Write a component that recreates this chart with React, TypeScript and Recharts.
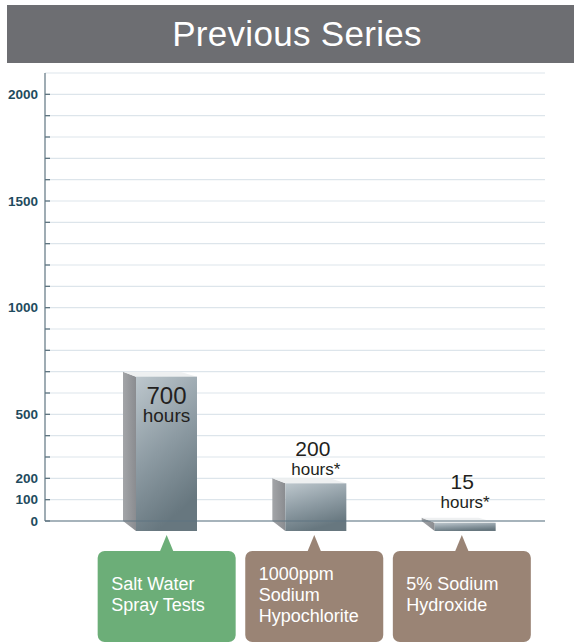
import React from "react";
import { BarChart, Bar, XAxis, YAxis, CartesianGrid } from "recharts";

const categories = ["Salt Water Spray Tests", "1000ppm Sodium Hypochlorite", "5% Sodium Hydroxide"];
const hours = [700, 200, 15];
const hourUnits = ["hours", "hours*", "hours*"];
const calloutLines = [
  ["Salt Water", "Spray Tests"],
  ["1000ppm", "Sodium", "Hypochlorite"],
  ["5% Sodium", "Hydroxide"],
];
const calloutColors = ["#6cae78", "#9a8475", "#9a8475"];
const yTicks = [0, 100, 200, 300, 400, 500, 600, 700, 800, 900, 1000, 1100, 1200, 1300, 1400, 1500, 1600, 1700, 1800, 1900, 2000];
const yLabels = [0, 100, 200, 500, 1000, 1500, 2000];
const title = "Previous Series";

const data = categories.map((c, i) => ({ name: c, hours: hours[i], unit: hourUnits[i] }));

const FONT = '"Liberation Sans", Arial, Helvetica, sans-serif';
const AXIS = "#5f7581";

function Bar3D(props: any) {
  const { x, y, width, height, payload } = props;
  const base = y + height;
  const dx = 13;
  const dyTop = 5;
  const dyBot = 10;
  const fx = x + dx;
  const fTop = y + dyTop;
  const fBot = base + dyBot;
  const inside = height > 60;
  const labelAnchor = fx + width / 2;
  const aboveRef = Math.min(fTop, 516);
  return (
    <g>
      <polygon
        points={`${x},${y} ${fx},${fTop} ${fx},${fBot} ${x},${base}`}
        fill="url(#sideGrad)"
      />
      <polygon
        points={`${x},${y} ${x + width - 4},${y} ${fx + width},${fTop} ${fx},${fTop}`}
        fill="#eef0f1"
      />
      <rect x={fx} y={fTop} width={width} height={fBot - fTop} fill="url(#frontGrad)" />
      {inside ? (
        <g fontFamily={FONT} fill="#231f20" textAnchor="middle">
          <text x={labelAnchor} y={fTop + 27} fontSize={24}>{payload.hours}</text>
          <text x={labelAnchor} y={fTop + 45} fontSize={19}>{payload.unit}</text>
        </g>
      ) : (
        <g fontFamily={FONT} fill="#231f20" textAnchor="middle">
          <text x={labelAnchor - 3} y={aboveRef - 27} fontSize={21}>{payload.hours}</text>
          <text x={labelAnchor} y={aboveRef - 8} fontSize={17}>{payload.unit}</text>
        </g>
      )}
    </g>
  );
}

function YTick(props: any) {
  const { x, y, payload } = props;
  const show = yLabels.includes(payload.value);
  return (
    <g>
      <line x1={x} x2={x + 5} y1={y} y2={y} stroke={AXIS} strokeWidth={1.3} />
      {show && (
        <text
          x={x - 7}
          y={y}
          dy={4.5}
          textAnchor="end"
          fontFamily={FONT}
          fontWeight="bold"
          fontSize={13.5}
          fill="#1f4b5e"
        >
          {payload.value}
        </text>
      )}
    </g>
  );
}

function Callout(props: any) {
  const { x, y, index } = props;
  const cx = x + 13 - index * 1.75;
  const w = 138;
  const left = cx - w / 2;
  const top = y + 30;
  const h = 91;
  const lines = calloutLines[index] || [];
  const color = calloutColors[index];
  const first = y + 79.5 - (lines.length - 1) * 10.5;
  return (
    <g>
      <polygon points={`${cx},${y + 14} ${cx - 7},${top + 1} ${cx + 7},${top + 1}`} fill={color} />
      <rect x={left} y={top} width={w} height={h} rx={7} ry={7} fill={color} />
      {lines.map((ln: string, i: number) => (
        <text
          key={i}
          x={left + 13.5}
          y={first + i * 21}
          fontFamily={FONT}
          fontSize={18}
          fill="#ffffff"
        >
          {ln}
        </text>
      ))}
    </g>
  );
}

export default function App() {
  return (
    <div style={{ position: "relative", width: 574, height: 643, overflow: "hidden", background: "#fff" }}>
      <style>{"body{margin:0}"}</style>
      <div style={{ position: "absolute", left: 0, top: 0 }}>
        <BarChart
          width={574}
          height={643}
          data={data}
          margin={{ top: 73, right: 29, bottom: 2, left: 0 }}
        >
          <defs>
            <linearGradient id="frontGrad" x1="0" y1="0" x2="0.35" y2="1">
              <stop offset="0%" stopColor="#bdc7cd" />
              <stop offset="55%" stopColor="#8c9aa2" />
              <stop offset="100%" stopColor="#67777f" />
            </linearGradient>
            <linearGradient id="sideGrad" x1="0" y1="0" x2="1" y2="0">
              <stop offset="0%" stopColor="#a3a5a8" />
              <stop offset="100%" stopColor="#8a8c90" />
            </linearGradient>
          </defs>
          <CartesianGrid vertical={false} stroke="#dde5eb" strokeWidth={1.2} />
          <XAxis
            dataKey="name"
            height={120}
            tickSize={0}
            tickMargin={0}
            tickLine={false}
            interval={0}
            axisLine={{ stroke: AXIS, strokeWidth: 1.2 }}
            padding={{ left: 34, right: 18 }}
            tick={<Callout />}
          />
          <YAxis
            width={45}
            domain={[0, 2100]}
            ticks={yTicks}
            interval={0}
            tickSize={0}
            tickMargin={0}
            tickLine={false}
            axisLine={{ stroke: AXIS, strokeWidth: 1.2 }}
            tick={<YTick />}
          />
          <Bar dataKey="hours" barSize={61} isAnimationActive={false} shape={<Bar3D />} />
        </BarChart>
      </div>
      <div
        style={{
          position: "absolute",
          left: 7,
          top: 5,
          width: 567,
          height: 58,
          boxSizing: "border-box",
          paddingLeft: 13,
          background: "#6d6e72",
          color: "#ffffff",
          fontFamily: FONT,
          fontSize: 35,
          display: "flex",
          alignItems: "center",
          justifyContent: "center",
          letterSpacing: 0.3,
        }}
      >
        {title}
      </div>
    </div>
  );
}
